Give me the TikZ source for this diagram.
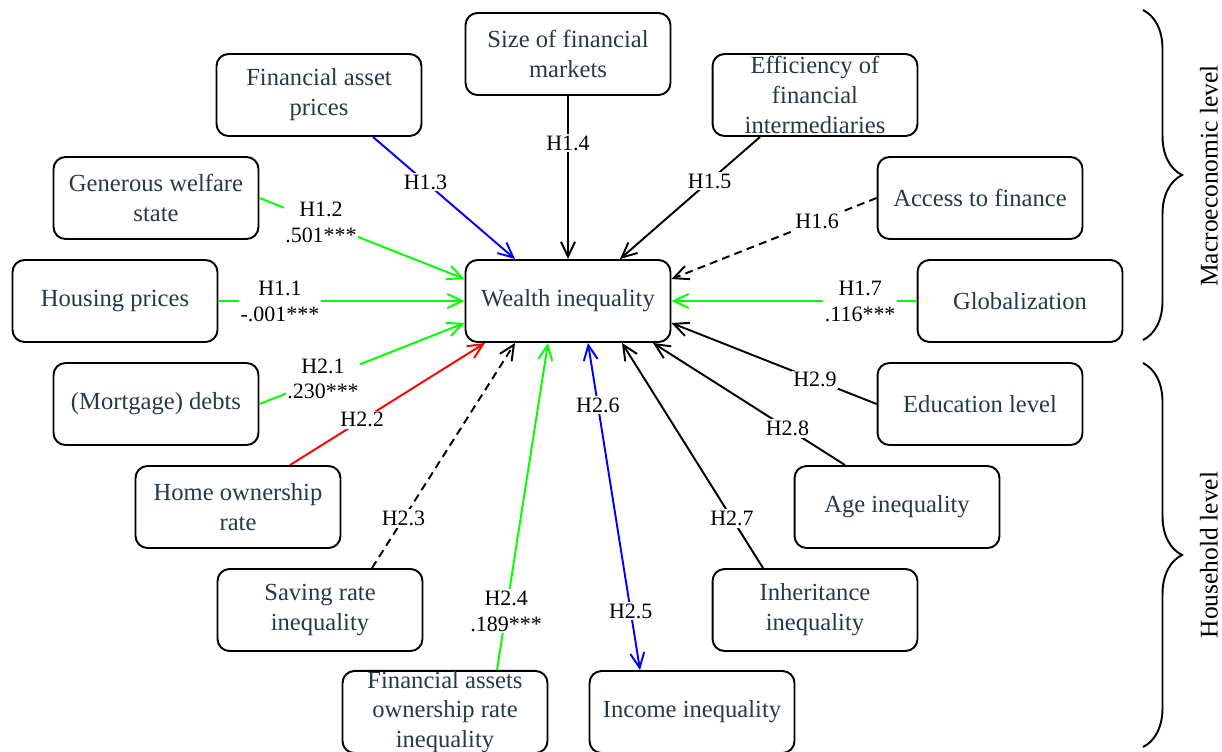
\documentclass[tikz,border=0pt]{standalone}
\usepackage{fontspec}
\setmainfont{Liberation Serif}
\usetikzlibrary{arrows.meta,decorations.pathreplacing}
\definecolor{boxtext}{HTML}{243A48}
\definecolor{hgreen}{HTML}{00FF00}
\definecolor{hblue}{HTML}{0000FF}
\definecolor{hred}{HTML}{FF0000}
\tikzset{
 box/.style = {rectangle, draw, line width=1.1pt, rounded corners=0.24cm,
           minimum width=4.1cm, minimum height=1.64cm, inner sep=0pt,
           align=center, text=boxtext, font=\fontsize{14}{17}\selectfont},
 hyp/.style = {fill=white, inner sep=1pt, align=center, text=black,
           font=\fontsize{12.5}{14.7}\selectfont},
 link/.style = {line width=1.1pt, -{Straight Barb[length=3mm,width=2.8mm]}},
 lvl/.style = {rotate=90, font=\fontsize{14.5}{17}\selectfont}
}

\begin{document}
\begin{tikzpicture}[x=0.02cm, y=-0.02cm]
  \useasboundingbox (0,0) rectangle (1222,751);

  % Centre
  \node[box] (wi) at (568,301) {Wealth inequality};

  % Macroeconomic level
  \node[box] (fap) at (319,95) {Financial asset\\prices};
  \node[box] (size) at (568,54) {Size of financial\\markets};
  \node[box] (eff) at (815,95) {Efficiency of\\financial\\intermediaries};
  \node[box] (gws) at (156,198) {Generous welfare\\state};
  \node[box] (acc) at (980,198) {Access to finance};
  \node[box] (hp) at (115,301) {Housing prices};
  \node[box] (glob) at (1020,301) {Globalization};

  % Household level
  \node[box] (mort) at (156,404) {(Mortgage) debts};
  \node[box] (edu) at (980,404) {Education level};
  \node[box] (home) at (238,507) {Home ownership\\rate};
  \node[box] (age) at (897,507) {Age inequality};
  \node[box] (sav) at (320,610) {Saving rate\\inequality};
  \node[box] (inh) at (815,610) {Inheritance\\inequality};
  \node[box] (fao) at (445,712) {Financial assets\\ownership rate\\inequality};
  \node[box] (inc) at (692,712) {Income inequality};

  % H1 links
  \draw[link,hgreen] (hp) -- node[hyp,pos=.25] {H1.1\\-.001***} (wi);
  \draw[link,hgreen] (gws.east) -- node[hyp,pos=.3] {H1.2\\.501***}
    ([yshift=0.44cm]wi.west);
  \draw[link,hblue] ([xshift=1.08cm]fap.south) -- node[hyp,pos=.37] {H1.3}
    ([xshift=-1.06cm]wi.north);
  \draw[link] (size) -- node[hyp,pos=.29] {H1.4} (wi);
  \draw[link] ([xshift=-1.1cm]eff.south) -- node[hyp,pos=.36] {H1.5}
    ([xshift=1.04cm]wi.north);
  \draw[link,dashed,dash pattern=on 4.5pt off 3pt] (acc.west) -- node[hyp,pos=.29] {H1.6}
    ([yshift=0.44cm]wi.east);
  \draw[link,hgreen] (glob) -- node[hyp,pos=.23] {H1.7\\.116***} (wi);

  % H2 links
  \draw[link,hgreen] (mort.east) -- node[hyp,pos=.31] {H2.1\\.230***}
    ([yshift=-0.44cm]wi.west);
  \draw[link,hred] ([xshift=1.04cm]home.north) -- node[hyp,pos=.37] {H2.2}
    ([xshift=-1.66cm]wi.south);
  \draw[link,dashed,dash pattern=on 4.5pt off 3pt] ([xshift=1.04cm]sav.north)
    -- node[hyp,pos=.22] {H2.3} ([xshift=-1.06cm]wi.south);
  \draw[link,hgreen] ([xshift=1.04cm]fao.north) -- node[hyp,pos=.18] {H2.4\\.189***}
    ([xshift=-0.4cm]wi.south);
  \draw[link,hblue,{Straight Barb[length=3mm,width=2.8mm]}-{Straight Barb[length=3mm,width=2.8mm]}]
    ([xshift=0.4cm]wi.south) -- node[hyp,pos=.19] {H2.6} node[hyp,pos=.82] {H2.5}
    ([xshift=-1.04cm]inc.north);
  \draw[link] ([xshift=-1.04cm]inh.north) -- node[hyp,pos=.22] {H2.7}
    ([xshift=1.08cm]wi.south);
  \draw[link] ([xshift=-1.04cm]age.north) -- node[hyp,pos=.3] {H2.8}
    ([xshift=1.7cm]wi.south);
  \draw[link] (edu.west) -- node[hyp,pos=.3] {H2.9}
    ([yshift=-0.44cm]wi.east);

  % Braces
  \coordinate (mtop) at (1143,10);
  \coordinate (mbot) at (1143,340);
  \coordinate (htop) at (1143,363);
  \coordinate (hbot) at (1143,747);
  \draw[line width=1.1pt, decorate, decoration={brace,amplitude=0.78cm}] (mtop) -- (mbot);
  \draw[line width=1.1pt, decorate, decoration={brace,amplitude=0.78cm}] (htop) -- (hbot);
  \node[lvl] (macro) at (1209,176) {Macroeconomic level};
  \node[lvl] (house) at (1209,555) {Household level};
\end{tikzpicture}
\end{document}
